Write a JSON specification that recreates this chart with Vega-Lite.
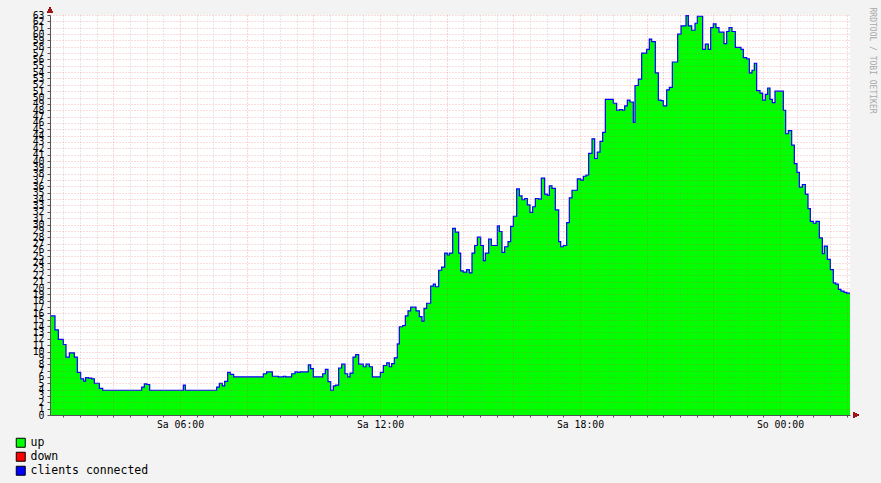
{
  "$schema": "https://vega.github.io/schema/vega-lite/v6.json",
  "width": 800,
  "height": 400,
  "autosize": {"type": "none"},
  "padding": {"left": 50, "top": 15, "right": 31, "bottom": 68},
  "background": "#F3F3F3",
  "title": {
    "text": "RRDTOOL / TOBI OETIKER",
    "orient": "right",
    "anchor": "start",
    "angle": 90,
    "font": "DejaVu Sans Mono",
    "fontSize": 8,
    "fontWeight": "normal",
    "color": "#A8A8A8",
    "offset": 10
  },
  "data": {
    "values": [
      {"h": 2.10, "clients": 15.6}, {"h": 2.25, "clients": 13.4}, {"h": 2.35, "clients": 11.9}, {"h": 2.50, "clients": 11.1},
      {"h": 2.58, "clients": 9.1}, {"h": 2.68, "clients": 9.8}, {"h": 2.83, "clients": 9.1}, {"h": 2.92, "clients": 6.7},
      {"h": 3.02, "clients": 5.7}, {"h": 3.11, "clients": 5.35}, {"h": 3.17, "clients": 5.9}, {"h": 3.25, "clients": 5.8},
      {"h": 3.35, "clients": 5.7}, {"h": 3.43, "clients": 5.0}, {"h": 3.58, "clients": 4.2}, {"h": 3.68, "clients": 3.9},
      {"h": 4.85, "clients": 4.4}, {"h": 4.93, "clients": 4.9}, {"h": 5.01, "clients": 4.8}, {"h": 5.09, "clients": 3.9},
      {"h": 6.10, "clients": 4.7}, {"h": 6.16, "clients": 3.9}, {"h": 7.10, "clients": 4.4}, {"h": 7.18, "clients": 5.0},
      {"h": 7.27, "clients": 4.6}, {"h": 7.34, "clients": 5.3}, {"h": 7.43, "clients": 6.7}, {"h": 7.51, "clients": 6.4},
      {"h": 7.61, "clients": 6.0}, {"h": 8.50, "clients": 6.5}, {"h": 8.60, "clients": 6.8}, {"h": 8.77, "clients": 6.1},
      {"h": 8.95, "clients": 6.0}, {"h": 9.10, "clients": 6.1}, {"h": 9.17, "clients": 6.0}, {"h": 9.35, "clients": 6.5},
      {"h": 9.45, "clients": 6.8}, {"h": 9.53, "clients": 6.7}, {"h": 9.60, "clients": 6.8}, {"h": 9.85, "clients": 7.9},
      {"h": 9.92, "clients": 7.3}, {"h": 10.00, "clients": 6.0}, {"h": 10.28, "clients": 6.5}, {"h": 10.36, "clients": 7.2},
      {"h": 10.44, "clients": 5.25}, {"h": 10.52, "clients": 3.9}, {"h": 10.60, "clients": 4.6}, {"h": 10.67, "clients": 4.7},
      {"h": 10.76, "clients": 7.4}, {"h": 10.85, "clients": 8.0}, {"h": 10.95, "clients": 6.5}, {"h": 11.03, "clients": 6.0},
      {"h": 11.10, "clients": 6.6}, {"h": 11.19, "clients": 9.1}, {"h": 11.27, "clients": 9.5}, {"h": 11.36, "clients": 8.0},
      {"h": 11.50, "clients": 7.6}, {"h": 11.58, "clients": 8.0}, {"h": 11.68, "clients": 7.6}, {"h": 11.77, "clients": 6.0},
      {"h": 12.01, "clients": 6.7}, {"h": 12.10, "clients": 7.8}, {"h": 12.20, "clients": 8.2}, {"h": 12.28, "clients": 7.6},
      {"h": 12.35, "clients": 8.1}, {"h": 12.43, "clients": 9.0}, {"h": 12.52, "clients": 11.2}, {"h": 12.58, "clients": 13.9},
      {"h": 12.68, "clients": 14.1}, {"h": 12.76, "clients": 15.6}, {"h": 12.84, "clients": 16.4}, {"h": 12.92, "clients": 17.0},
      {"h": 13.08, "clients": 16.4}, {"h": 13.18, "clients": 15.5}, {"h": 13.26, "clients": 14.8}, {"h": 13.32, "clients": 16.8},
      {"h": 13.40, "clients": 17.6}, {"h": 13.52, "clients": 20.3}, {"h": 13.60, "clients": 20.6}, {"h": 13.66, "clients": 20.2},
      {"h": 13.76, "clients": 22.8}, {"h": 13.85, "clients": 23.3}, {"h": 13.94, "clients": 25.5}, {"h": 14.02, "clients": 25.2},
      {"h": 14.08, "clients": 25.5}, {"h": 14.18, "clients": 29.4}, {"h": 14.26, "clients": 28.8}, {"h": 14.36, "clients": 25.5},
      {"h": 14.42, "clients": 22.7}, {"h": 14.50, "clients": 22.5}, {"h": 14.60, "clients": 22.9}, {"h": 14.68, "clients": 22.4},
      {"h": 14.76, "clients": 25.5}, {"h": 14.84, "clients": 26.7}, {"h": 14.92, "clients": 28.0}, {"h": 15.02, "clients": 26.7},
      {"h": 15.10, "clients": 24.3}, {"h": 15.16, "clients": 25.5}, {"h": 15.26, "clients": 27.7}, {"h": 15.34, "clients": 26.7},
      {"h": 15.52, "clients": 29.8}, {"h": 15.58, "clients": 28.9}, {"h": 15.66, "clients": 25.6}, {"h": 15.74, "clients": 26.5},
      {"h": 15.84, "clients": 27.3}, {"h": 15.92, "clients": 29.7}, {"h": 16.00, "clients": 31.3}, {"h": 16.10, "clients": 35.6},
      {"h": 16.18, "clients": 34.5}, {"h": 16.26, "clients": 33.9}, {"h": 16.34, "clients": 34.1}, {"h": 16.42, "clients": 33.1},
      {"h": 16.50, "clients": 31.9}, {"h": 16.58, "clients": 32.8}, {"h": 16.66, "clients": 34.1}, {"h": 16.76, "clients": 34.0},
      {"h": 16.84, "clients": 37.3}, {"h": 16.94, "clients": 34.8}, {"h": 17.02, "clients": 34.6}, {"h": 17.08, "clients": 36.1},
      {"h": 17.16, "clients": 35.7}, {"h": 17.26, "clients": 32.3}, {"h": 17.36, "clients": 27.3}, {"h": 17.42, "clients": 26.5},
      {"h": 17.50, "clients": 26.7}, {"h": 17.60, "clients": 30.3}, {"h": 17.68, "clients": 34.2}, {"h": 17.76, "clients": 35.4},
      {"h": 17.92, "clients": 37.2}, {"h": 18.02, "clients": 37.0}, {"h": 18.10, "clients": 37.6}, {"h": 18.18, "clients": 37.8},
      {"h": 18.26, "clients": 41.2}, {"h": 18.36, "clients": 43.5}, {"h": 18.44, "clients": 40.4}, {"h": 18.52, "clients": 41.4},
      {"h": 18.60, "clients": 43.1}, {"h": 18.68, "clients": 44.5}, {"h": 18.76, "clients": 49.7}, {"h": 19.00, "clients": 49.1},
      {"h": 19.10, "clients": 48.0}, {"h": 19.18, "clients": 48.1}, {"h": 19.28, "clients": 48.0}, {"h": 19.34, "clients": 48.7},
      {"h": 19.42, "clients": 49.6}, {"h": 19.50, "clients": 49.3}, {"h": 19.60, "clients": 46.1}, {"h": 19.65, "clients": 51.9},
      {"h": 19.75, "clients": 52.9}, {"h": 19.85, "clients": 57.0}, {"h": 20.00, "clients": 57.6}, {"h": 20.08, "clients": 59.2},
      {"h": 20.15, "clients": 58.8}, {"h": 20.26, "clients": 53.9}, {"h": 20.35, "clients": 49.6}, {"h": 20.43, "clients": 49.5},
      {"h": 20.50, "clients": 48.7}, {"h": 20.60, "clients": 51.2}, {"h": 20.68, "clients": 51.6}, {"h": 20.77, "clients": 55.6},
      {"h": 20.93, "clients": 60.0}, {"h": 21.03, "clients": 61.3}, {"h": 21.18, "clients": 62.9}, {"h": 21.25, "clients": 61.3},
      {"h": 21.35, "clients": 60.6}, {"h": 21.45, "clients": 61.7}, {"h": 21.52, "clients": 62.8}, {"h": 21.68, "clients": 57.6},
      {"h": 21.76, "clients": 58.4}, {"h": 21.85, "clients": 57.6}, {"h": 21.92, "clients": 61.0}, {"h": 22.00, "clients": 61.6},
      {"h": 22.08, "clients": 61.0}, {"h": 22.17, "clients": 60.3}, {"h": 22.32, "clients": 58.5}, {"h": 22.40, "clients": 60.4},
      {"h": 22.47, "clients": 61.0}, {"h": 22.56, "clients": 60.4}, {"h": 22.66, "clients": 57.9}, {"h": 22.83, "clients": 57.6},
      {"h": 22.90, "clients": 56.3}, {"h": 23.00, "clients": 56.1}, {"h": 23.08, "clients": 53.9}, {"h": 23.16, "clients": 54.3},
      {"h": 23.23, "clients": 55.4}, {"h": 23.30, "clients": 51.1}, {"h": 23.40, "clients": 50.7}, {"h": 23.48, "clients": 49.6},
      {"h": 23.56, "clients": 50.5}, {"h": 23.63, "clients": 51.5}, {"h": 23.70, "clients": 49.7}, {"h": 23.77, "clients": 49.2},
      {"h": 23.85, "clients": 51.0}, {"h": 24.10, "clients": 48.0}, {"h": 24.17, "clients": 44.3}, {"h": 24.25, "clients": 44.8},
      {"h": 24.35, "clients": 42.5}, {"h": 24.43, "clients": 39.6}, {"h": 24.51, "clients": 38.2}, {"h": 24.58, "clients": 35.9},
      {"h": 24.67, "clients": 36.3}, {"h": 24.76, "clients": 34.8}, {"h": 24.84, "clients": 32.5}, {"h": 24.91, "clients": 30.5},
      {"h": 25.00, "clients": 30.2}, {"h": 25.08, "clients": 30.5}, {"h": 25.18, "clients": 27.9}, {"h": 25.27, "clients": 25.4},
      {"h": 25.33, "clients": 26.6}, {"h": 25.42, "clients": 24.5}, {"h": 25.51, "clients": 22.9}, {"h": 25.60, "clients": 20.8},
      {"h": 25.67, "clients": 20.6}, {"h": 25.75, "clients": 19.8}, {"h": 25.83, "clients": 19.5}, {"h": 25.92, "clients": 19.3},
      {"h": 26.00, "clients": 19.2}, {"h": 26.10, "clients": 19.2}
    ]
  },
  "encoding": {
    "x": {
      "field": "h",
      "type": "quantitative",
      "scale": {"domain": [2.1, 26.1], "nice": false, "zero": false},
      "axis": {
        "title": null,
        "zindex": 1,
        "values": [2.5, 3, 3.5, 4, 4.5, 5, 5.5, 6, 6.5, 7, 7.5, 8, 8.5, 9, 9.5, 10, 10.5, 11, 11.5, 12, 12.5, 13, 13.5, 14, 14.5, 15, 15.5, 16, 16.5, 17, 17.5, 18, 18.5, 19, 19.5, 20, 20.5, 21, 21.5, 22, 22.5, 23, 23.5, 24, 24.5, 25, 25.5, 26],
        "labelExpr": "datum.value == 6 ? 'Sa 06:00' : datum.value == 12 ? 'Sa 12:00' : datum.value == 18 ? 'Sa 18:00' : datum.value == 24 ? 'So 00:00' : ''",
        "labelOverlap": false,
        "labelFlush": false,
        "labelFont": "DejaVu Sans Mono",
        "labelFontSize": 9.8,
        "labelColor": "#000000",
        "labelPadding": 2,
        "tickSize": 2,
        "tickColor": "#555555",
        "domainColor": "#555555",
        "grid": true,
        "gridDash": [1, 2],
        "gridWidth": 1,
        "gridColor": {"condition": {"test": "datum.value % 2 === 0", "value": "rgba(230,60,60,0.4)"}, "value": "rgba(140,140,140,0.4)"}
      }
    },
    "y": {
      "field": "clients",
      "type": "quantitative",
      "scale": {"domain": [0, 63], "nice": false},
      "axis": {
        "title": null,
        "zindex": 1,
        "values": [0, 1, 2, 3, 4, 5, 6, 7, 8, 9, 10, 11, 12, 13, 14, 15, 16, 17, 18, 19, 20, 21, 22, 23, 24, 25, 26, 27, 28, 29, 30, 31, 32, 33, 34, 35, 36, 37, 38, 39, 40, 41, 42, 43, 44, 45, 46, 47, 48, 49, 50, 51, 52, 53, 54, 55, 56, 57, 58, 59, 60, 61, 62, 63],
        "labelOverlap": false,
        "labelFlush": false,
        "labelBound": false,
        "labelFont": "DejaVu Sans Mono",
        "labelFontSize": 9.8,
        "labelColor": "#000000",
        "labelPadding": 3,
        "tickSize": 3,
        "tickColor": "#555555",
        "domainColor": "#555555",
        "grid": true,
        "gridDash": [1, 2],
        "gridWidth": 1,
        "gridColor": "rgba(230,60,60,0.35)"
      }
    }
  },
  "layer": [
    {
      "mark": {"type": "area", "interpolate": "step-after", "opacity": 1},
      "encoding": {
        "color": {
          "datum": "up",
          "type": "nominal",
          "scale": {"domain": ["up", "down", "clients connected"], "range": ["#00FF00", "#FF0000", "#0000FF"]},
          "legend": {
            "orient": "none",
            "legendX": -35,
            "legendY": 422,
            "direction": "vertical",
            "title": null,
            "padding": 0,
            "symbolType": "square",
            "symbolSize": 81,
            "symbolStrokeColor": "#000000",
            "symbolStrokeWidth": 1,
            "symbolOpacity": 1,
            "labelFont": "DejaVu Sans Mono",
            "labelFontSize": 11.5,
            "labelColor": "#000000",
            "labelOffset": 4,
            "rowPadding": 0
          }
        }
      }
    },
    {
      "mark": {"type": "line", "interpolate": "step-after", "color": "#0000FF", "strokeWidth": 1.2}
    },
    {
      "mark": {"type": "point", "shape": "triangle-up", "filled": true, "size": 30, "color": "#A01515", "opacity": 1},
      "encoding": {"x": {"datum": 2.1}, "y": {"datum": 63.8}}
    },
    {
      "mark": {"type": "point", "shape": "triangle-right", "filled": true, "size": 30, "color": "#A01515", "opacity": 1},
      "encoding": {"x": {"datum": 26.28}, "y": {"datum": 0}}
    }
  ],
  "config": {
    "font": "DejaVu Sans Mono",
    "view": {"stroke": null, "fill": "#FFFFFF"}
  }
}
